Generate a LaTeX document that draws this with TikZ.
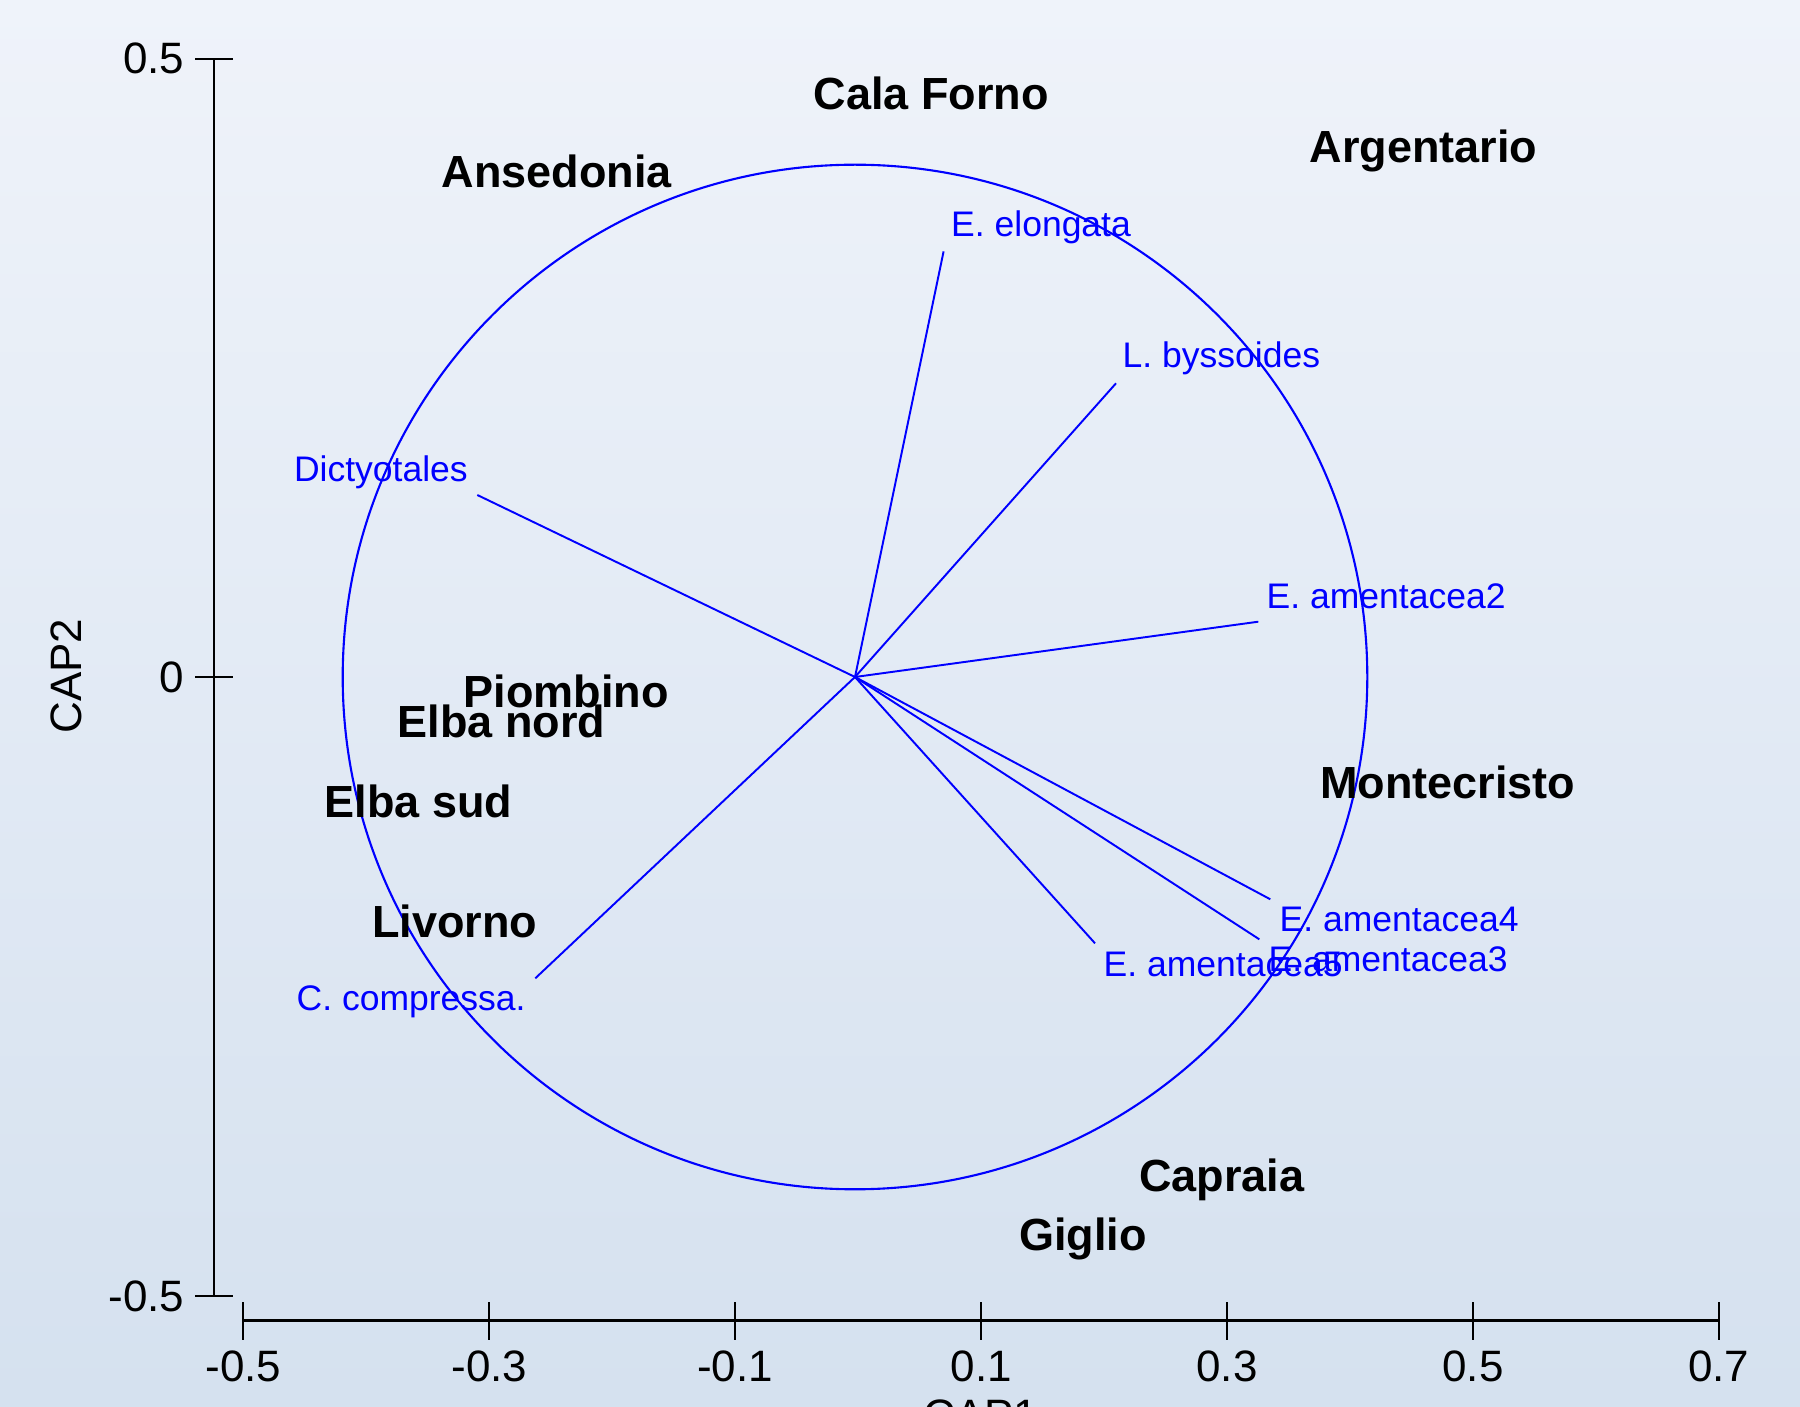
\documentclass[tikz,border=0pt]{standalone}
\usepackage{fontspec}
\setmainfont{Liberation Sans}
\definecolor{bgtop}{RGB}{239,243,250}
\definecolor{bgbot}{RGB}{213,225,239}
\begin{document}
\begin{tikzpicture}[x=0.01cm,y=-0.01cm,
  site/.style={font=\fontsize{12.8pt}{14pt}\selectfont\bfseries, text=black, inner sep=0pt, anchor=base west},
  spec/.style={font=\fontsize{10.1pt}{12pt}\selectfont, text=blue, inner sep=0pt, anchor=base west},
  vec/.style={draw=blue, line width=0.55pt},
  axline/.style={draw=black, line width=0.6pt},
  ticklab/.style={font=\fontsize{12.5pt}{14pt}\selectfont, text=black, inner sep=0pt}]
\useasboundingbox (0,0) rectangle (1800,1407);
\clip (0,0) rectangle (1800,1407);
\shade[top color=bgtop, bottom color=bgbot] (0,0) rectangle (1800,1407);

% y axis
\draw[axline] (214,58.7) -- (214,1296);
\foreach \yy/\lab/\nm in {58.7/0.5/ya, 677.3/0/yb, 1296/-0.5/yc}{
  \draw[axline] (195,\yy) -- (233,\yy);
  \node[ticklab, anchor=east] (\nm) at (185,\yy) {\lab};
}
\node[ticklab, rotate=90] (ylab) at (66.7,676) {CAP2};

% x axis
\draw[axline, line width=0.8pt] (243.4,1320.7) -- (1718.8,1320.7);
\foreach \xx/\lab/\nm in {243.4/-0.5/xa, 489.3/-0.3/xb, 735.2/-0.1/xc, 981.1/0.1/xd, 1227.0/0.3/xe, 1472.9/0.5/xf, 1718.8/0.7/xg}{
  \draw[axline] (\xx,1302) -- (\xx,1340);
  \node[ticklab, anchor=north] (\nm) at (\xx,1350) {\lab};
}
\node[ticklab, anchor=north] (xlab) at (981,1399) {CAP1};

% circle
\coordinate (o) at (855,677);
\draw[blue, line width=0.6pt] (o) circle [radius=5.12cm];

% vectors
\coordinate (e1) at (943.6,251.4);
\coordinate (e2) at (1116,383.3);
\coordinate (e3) at (477.3,495);
\coordinate (e4) at (1258.3,621.7);
\coordinate (e5) at (1270.3,899.3);
\coordinate (e6) at (1259.3,939.3);
\coordinate (e7) at (1095,943.3);
\coordinate (e8) at (535.3,978.3);
\foreach \e in {e1,e2,e3,e4,e5,e6,e7,e8}{\draw[vec] (o) -- (\e);}

% species labels
\node[spec] (s1) at (950.5,237) {E. elongata};
\node[spec] (s2) at (1122,368) {L. byssoides};
\node[spec] (s3) at (293.3,481.7) {Dictyotales};
\node[spec] (s4) at (1266,608.3) {E. amentacea2};
\node[spec] (s5) at (1279,931.7) {E. amentacea4};
\node[spec] (s6) at (1268,971.7) {E. amentacea3};
\node[spec] (s7) at (1103,976.7) {E. amentacea5};
\node[spec] (s8) at (296,1011) {C. compressa.};

% site labels
\node[site] (p1) at (813,110) {Cala Forno};
\node[site] (p2) at (441,187.5) {Ansedonia};
\node[site] (p3) at (1309,162.7) {Argentario};
\node[site] (p4) at (463,708) {Piombino};
\node[site] (p5) at (397,738) {Elba nord};
\node[site] (p6) at (324,817.7) {Elba sud};
\node[site] (p7) at (371.7,937.3) {Livorno};
\node[site] (p8) at (1319.3,798.3) {Montecristo};
\node[site] (p9) at (1138.3,1191.7) {Capraia};
\node[site] (p10) at (1018.3,1250) {Giglio};
\end{tikzpicture}
\end{document}
